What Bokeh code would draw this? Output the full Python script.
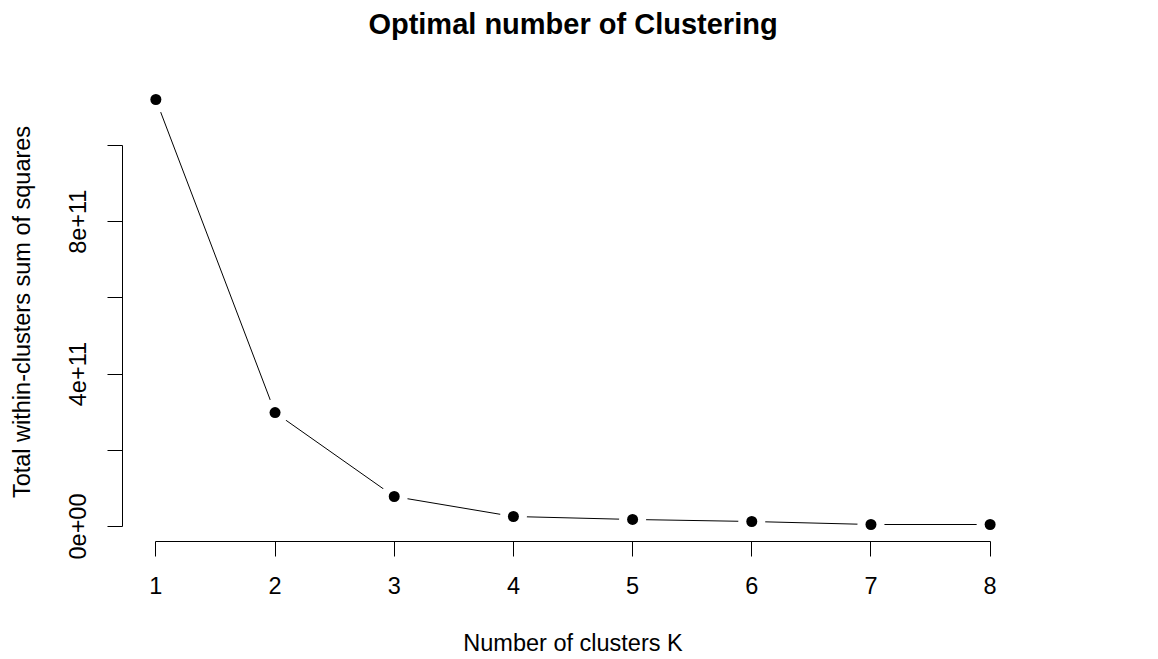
from bokeh.plotting import figure
from bokeh.models import Range1d, FixedTicker, CustomJSTickFormatter, LinearAxis
from bokeh.embed import file_html
from bokeh.resources import INLINE

# Elbow curve: total within-cluster sum of squares for k = 1..8
k_values = [1, 2, 3, 4, 5, 6, 7, 8]
wss_values = [1.1207e12, 2.99e11, 7.87e10, 2.62e10, 1.84e10, 1.31e10, 5.2e9, 5.2e9]

x_tick_values = [1, 2, 3, 4, 5, 6, 7, 8]
y_tick_values = [0, 2e11, 4e11, 6e11, 8e11, 1e12]
y_tick_labels = ["0e+00", "", "4e+11", "", "8e+11", ""]

title_text = "Optimal number of Clustering"
FONT = "Liberation Sans"

# axis limits padded by 4% on each side
xpad = 0.04 * (max(k_values) - min(k_values))
ypad = 0.04 * (max(wss_values) - min(wss_values))

p = figure(
    width=1158, height=659,
    x_range=Range1d(min(k_values) - xpad, max(k_values) + xpad),
    y_range=Range1d(min(wss_values) - ypad, max(wss_values) + ypad),
    output_backend="svg", toolbar_location=None,
    min_border_left=122, min_border_right=135,
    min_border_top=82, min_border_bottom=118,
)
p.outline_line_color = None
p.grid.visible = False
p.background_fill_color = "white"
p.border_fill_color = "white"

# main title: a bare axis above the frame carrying only its label
top = LinearAxis(
    ticker=FixedTicker(ticks=[]),
    axis_line_color=None,
    major_tick_line_color=None,
    minor_tick_line_color=None,
    major_label_text_font_size="0px",
    major_label_standoff=0,
    major_tick_out=0,
    axis_label=title_text,
    axis_label_text_font=FONT,
    axis_label_text_font_size="29px",
    axis_label_text_font_style="bold",
    axis_label_text_color="black",
    axis_label_standoff=43,
)
p.add_layout(top, "above")

# x axis
xa = p.below[0]
xa.ticker = FixedTicker(ticks=x_tick_values)
xa.bounds = (min(x_tick_values), max(x_tick_values))
xa.axis_label = "Number of clusters K"

# y axis
ya = p.left[0]
ya.ticker = FixedTicker(ticks=y_tick_values)
ya.bounds = (min(y_tick_values), max(y_tick_values))
ya.formatter = CustomJSTickFormatter(
    args=dict(vals=y_tick_values, labs=y_tick_labels),
    code="""
    for (let i = 0; i < vals.length; i++) {
        if (Math.abs(vals[i] - tick) < 1) return labs[i];
    }
    return "";
    """,
)
ya.major_label_orientation = "vertical"
ya.axis_label = "Total within-clusters sum of squares"

for ax in (xa, ya):
    ax.axis_line_color = "black"
    ax.axis_line_width = 1
    ax.major_tick_line_color = "black"
    ax.major_tick_out = 15
    ax.major_tick_in = 0
    ax.minor_tick_line_color = None
    ax.major_label_text_font = FONT
    ax.major_label_text_font_size = "23.5px"
    ax.major_label_text_color = "black"
    ax.axis_label_text_font = FONT
    ax.axis_label_text_font_size = "23.5px"
    ax.axis_label_text_font_style = "normal"
    ax.axis_label_text_color = "black"

xa.major_label_standoff = 20
xa.axis_label_standoff = 33
ya.major_label_standoff = 21
ya.axis_label_standoff = 32

# connecting line, broken around each point
p.line(k_values, wss_values, line_color="black", line_width=1)
p.scatter(k_values, wss_values, size=27, fill_color="white", line_color=None)
p.scatter(k_values, wss_values, size=11, fill_color="black", line_color=None)

open("out.html", "w").write(file_html(p, INLINE))
